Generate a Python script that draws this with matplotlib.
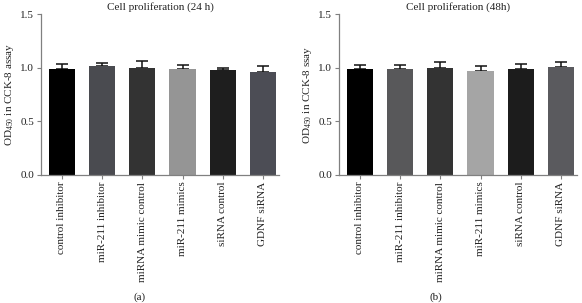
import matplotlib
matplotlib.use("Agg")
import matplotlib.pyplot as plt
import numpy as np

plt.rcParams['font.family'] = ['Liberation Serif', 'DejaVu Serif']
plt.rcParams['mathtext.fontset'] = 'custom'
plt.rcParams['mathtext.rm'] = 'Liberation Serif'

categories = ["control inhibitor", "miR-211 inhibitor", "miRNA mimic control",
              "miR-211 mimics", "siRNA control", "GDNF siRNA"]

means_24h = [0.986, 1.011, 0.992, 0.986, 0.974, 0.955]
err_24h = [0.044, 0.028, 0.066, 0.037, 0.024, 0.056]
colors_24h = ["#000000", "#4a4b50", "#333333", "#959595", "#1e1e1e", "#4c4d55"]

means_48h = [0.989, 0.990, 1.000, 0.970, 0.990, 1.005]
err_48h = [0.034, 0.030, 0.054, 0.041, 0.040, 0.049]
colors_48h = ["#000000", "#58585a", "#333333", "#a5a5a5", "#1c1c1c", "#5a5a5e"]

titles = ["Cell proliferation (24 h)", "Cell proliferation (48h)"]
ylabels = [r"OD$_{450}$ in CCK-8 assay", r"OD$_{450}$ in CCK-8 ssay"]
panel_labels = ["(a)", "(b)"]
yticks = [0.0, 0.5, 1.0, 1.5]

W, H = 582, 303
fig = plt.figure(figsize=(W / 100, H / 100), dpi=100)

panels = [
    (means_24h, err_24h, colors_24h, 41, 279, 140),
    (means_48h, err_48h, colors_48h, 339, 577, 436),
]
for i, (m, e, c, x0, x1, lx) in enumerate(panels):
    ax = fig.add_axes([x0 / W, 1 - 174.7 / H, (x1 - x0) / W, (174.7 - 14) / H])
    x = np.arange(len(categories))
    ax.bar(x, m, width=0.65, color=c, zorder=2)
    ax.errorbar(x, m, yerr=[np.zeros(len(m)), e], fmt='none', ecolor='#111111',
                elinewidth=1.1, capsize=4.5, capthick=1.1, zorder=1)
    ax.set_xlim(-0.52, 5.4)
    ax.set_ylim(0, 1.5)
    ax.set_yticks(yticks)
    ax.set_yticklabels([f"{t:.1f}" for t in yticks], fontsize=8)
    ax.set_xticks(x)
    ax.set_xticklabels(categories, rotation=90, fontsize=8)
    for s in ['top', 'right']:
        ax.spines[s].set_visible(False)
    for s in ['left', 'bottom']:
        ax.spines[s].set_color('#808080')
        ax.spines[s].set_linewidth(0.9)
    ax.tick_params(axis='both', colors='#808080', length=3, width=0.8, labelcolor='#222222')
    ax.tick_params(axis='x', pad=2)
    ax.tick_params(axis='y', pad=2)
    ax.set_title(titles[i], fontsize=8, pad=3, color='#222222')
    ax.set_ylabel(ylabels[i], fontsize=8, color='#222222', labelpad=3)
    fig.text(lx / W, 1 - 296.7 / H, panel_labels[i], fontsize=8, ha='center', va='center', color='#222222')

fig.savefig("out.png", dpi=100)
